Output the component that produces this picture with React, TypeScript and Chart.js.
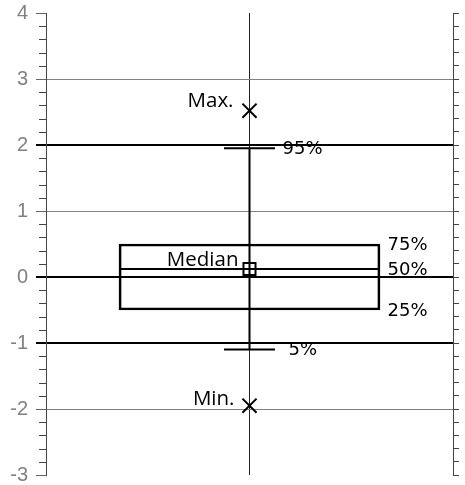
import React, { useEffect, useRef } from 'react';
import { Chart, registerables } from 'chart.js';

Chart.register(...registerables);

// ---- data ----
const yRange = [-3, 4];
const majorStep = [1];
const minorStep = [0.2];
const referenceLines = [2, 0, -1];

const extremeNames = ['Max.', 'Min.'];
const extremeValues = [2.52, -1.95];

const whiskerNames = ['95%', '5%'];
const whiskerValues = [1.95, -1.1];

const boxNames = ['75%', '50%', '25%'];
const boxValues = [0.5, 0.12, -0.5];

const medianName = ['Median'];
const medianValue = [0.12];

// ---- styles (pixel offsets for annotation text) ----
const styleCfg = {
  whiskerLabelDx: [33, 39],
  boxLabelDx: 138,
  extremeLabelDx: [-16, -15],
  extremeLabelDy: [-4, -1],
  medianLabelDx: -11,
  medianLabelDy: -3,
};

const labelPlugin = {
  id: 'labels',
  afterDraw(chart: any) {
    const { ctx, scales, chartArea } = chart;
    const x0 = scales.x.getPixelForValue(0);
    const y = scales.y;
    ctx.save();
    // minor ticks on the left axis
    ctx.strokeStyle = '#444';
    ctx.lineWidth = 1;
    scales.y2.ticks.forEach((t: any) => {
      if (Math.abs(t.value - Math.round(t.value)) < 1e-6) return;
      const py = Math.round(y.getPixelForValue(t.value)) + 0.5;
      ctx.beginPath();
      ctx.moveTo(chartArea.left - 7, py);
      ctx.lineTo(chartArea.left, py);
      ctx.stroke();
    });
    ctx.fillStyle = '#000';
    // right labels (DejaVu)
    ctx.font = '18px "DejaVu Sans"';
    ctx.textAlign = 'left';
    ctx.textBaseline = 'middle';
    whiskerNames.forEach((n, i) => {
      ctx.fillText(n, x0 + styleCfg.whiskerLabelDx[i], y.getPixelForValue(whiskerValues[i]) + 1);
    });
    boxNames.forEach((n, i) => {
      ctx.fillText(n, x0 + styleCfg.boxLabelDx, y.getPixelForValue(boxValues[i]) + 1);
    });
    // left labels
    ctx.font = '20.5px "Open Sans"';
    ctx.textAlign = 'right';
    ctx.textBaseline = 'alphabetic';
    extremeNames.forEach((n, i) => {
      ctx.fillText(n, x0 + styleCfg.extremeLabelDx[i], y.getPixelForValue(extremeValues[i]) + styleCfg.extremeLabelDy[i]);
    });
    ctx.fillText(medianName[0], x0 + styleCfg.medianLabelDx, y.getPixelForValue(medianValue[0]) + styleCfg.medianLabelDy);
    ctx.restore();
  },
};

export default function App() {
  const ref = useRef<HTMLCanvasElement>(null);
  useEffect(() => {
    if (!ref.current) return;
    const q3 = boxValues[0];
    const med = boxValues[1];
    const q1 = boxValues[2];
    const chart = new Chart(ref.current, {
      type: 'bar',
      data: {
        datasets: [
          {
            type: 'line',
            data: [{ x: 0, y: whiskerValues[1] }, { x: 0, y: whiskerValues[0] }],
            borderColor: '#000',
            borderWidth: 2,
            pointRadius: 0,
            order: 5,
          } as any,
          {
            type: 'bar',
            data: [{ x: 0, y: [q1, q3] }],
            backgroundColor: 'rgba(0,0,0,0)',
            borderColor: '#000',
            borderWidth: 2,
            borderSkipped: false,
            barThickness: 261,
            order: 4,
          } as any,
          {
            type: 'line',
            data: [{ x: 0, y: med }],
            showLine: false,
            pointStyle: 'line',
            pointRadius: 130,
            borderColor: '#000',
            borderWidth: 2,
            order: 3,
          } as any,
          {
            type: 'line',
            data: whiskerValues.map((v) => ({ x: 0, y: v })),
            showLine: false,
            pointStyle: 'line',
            pointRadius: 25.5,
            borderColor: '#000',
            borderWidth: 2,
            order: 2,
          } as any,
          {
            type: 'line',
            data: extremeValues.map((v) => ({ x: 0, y: v })),
            showLine: false,
            pointStyle: 'crossRot',
            pointRadius: 10,
            borderColor: '#000',
            borderWidth: 2,
            order: 1,
          } as any,
          {
            type: 'line',
            data: medianValue.map((v) => ({ x: 0, y: v })),
            showLine: false,
            pointStyle: 'rect',
            pointRadius: 8.5,
            backgroundColor: 'rgba(0,0,0,0)',
            borderColor: '#000',
            borderWidth: 2,
            order: 0,
          } as any,
        ],
      },
      options: {
        animation: false,
        responsive: false,
        events: [],
        layout: { autoPadding: false, padding: { top: 13, bottom: 10, left: 0, right: 0 } },
        plugins: { legend: { display: false }, tooltip: { enabled: false } },
        scales: {
          x: {
            type: 'linear',
            min: -1,
            max: 1,
            offset: false,
            afterFit: (s: any) => {
              s.height = 0;
              s.paddingLeft = 0;
              s.paddingRight = 0;
            },
            ticks: { display: false, stepSize: 1 },
            border: { display: false },
            grid: {
              offset: false,
              drawTicks: false,
              color: (c: any) => (c.tick && c.tick.value === 0 ? '#222' : 'rgba(0,0,0,0)'),
              lineWidth: 1,
            },
          },
          y: {
            type: 'linear',
            position: 'left',
            min: yRange[0],
            max: yRange[1],
            afterFit: (s: any) => {
              s.width = 46;
              s.paddingTop = 0;
              s.paddingBottom = 0;
            },
            ticks: {
              stepSize: majorStep[0],
              padding: 8,
              color: '#808080',
              font: { family: '"Liberation Sans"', size: 20 },
            },
            border: { color: '#444', width: 1 },
            grid: {
              tickLength: 10,
              color: (c: any) => {
                const v = c.tick ? c.tick.value : 0;
                if (v === yRange[0] || v === yRange[1]) return 'rgba(0,0,0,0)';
                return referenceLines.includes(v) ? '#000' : '#808080';
              },
              tickColor: (c: any) => {
                const v = c.tick ? c.tick.value : 0;
                return referenceLines.includes(v) ? '#000' : '#666';
              },
              lineWidth: (c: any) => (c.tick && referenceLines.includes(c.tick.value) ? 2 : 1),
            },
          },
          y2: {
            type: 'linear',
            position: 'right',
            min: yRange[0],
            max: yRange[1],
            afterFit: (s: any) => {
              s.width = 12;
              s.paddingTop = 0;
              s.paddingBottom = 0;
            },
            ticks: { display: false, stepSize: minorStep[0], maxTicksLimit: 100 },
            border: { color: '#444', width: 1 },
            grid: { drawOnChartArea: false, tickLength: 6, color: '#444', lineWidth: 1 },
          },
        },
      } as any,
      plugins: [labelPlugin],
    });
    return () => chart.destroy();
  }, []);
  return (
    <div style={{ position: 'absolute', left: 0, top: 0, width: 465, height: 485 }}>
      <canvas ref={ref} width={465} height={485} />
    </div>
  );
}
